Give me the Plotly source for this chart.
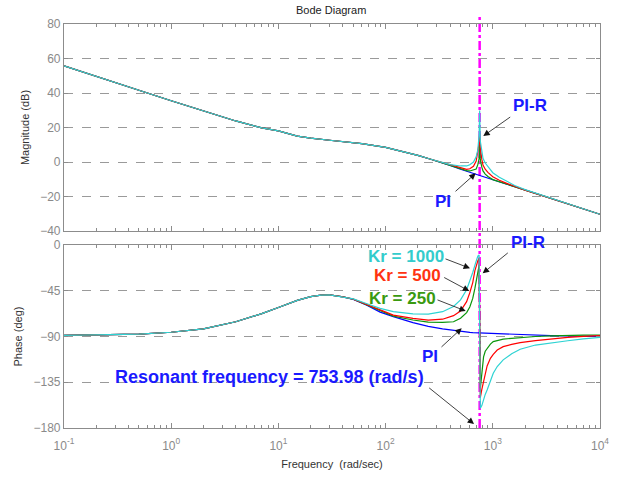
import plotly.graph_objects as go

# ---- Frequency response data (rad/s, dB, deg) ----
# Low-frequency part where PI and PI-R loops coincide
w_mag_shared = [0.1, 0.2, 0.5, 1, 2, 4, 7, 10, 15, 20, 30, 40, 60, 100, 150, 200, 250]
mag_shared = [55.7, 49.8, 41.6, 35.5, 29.6, 23.8, 19.8, 18.0, 15.0, 13.8, 12.6, 11.9,
              10.6, 8.5, 5.9, 3.8, 2.0]
w_ph_shared = [0.1, 0.2, 0.5, 1, 2, 4, 7, 10, 15, 20, 25, 30, 40]
ph_shared = [-88.8, -88.5, -87.6, -85.8, -82.5, -75.5, -67.5, -61.5, -54.5, -50.8,
             -49.3, -49.0, -51.0]

# Magnitude around the resonant frequency
w_mag_res = [300, 400, 500, 570, 610, 660, 700, 725, 745, 754, 765, 790, 810, 850, 900,
             1000, 1150, 1350, 1600, 2000, 3000, 5000, 7000, 10000]
mag_pi = [0.5, -2.0, -4.2, -5.4, -6.0, -6.8, -7.3, -7.6, -7.8, -7.9, -8.0, -8.3, -8.5,
          -8.9, -9.4, -10.6, -11.7, -12.9, -14.3, -16.3, -19.8, -24.2, -27.3, -30.3]
mag_kr250 = [0.5, -2.0, -4.1, -5.0, -5.2, -4.7, -4.1, -1.5, 2.0, 10.3, 1.2, -3.0, -5.2,
             -7.0, -8.4, -10.2, -11.5, -12.8, -14.3, -16.3, -19.8, -24.2, -27.3, -30.3]
mag_kr500 = [0.6, -1.9, -3.7, -4.3, -3.9, -2.5, 0.5, 5.5, 11.0, 16.6, 8.0, 1.5, -1.7,
             -4.2, -6.0, -8.5, -10.6, -12.4, -14.1, -16.3, -19.8, -24.2, -27.3, -30.3]
mag_kr1000 = [0.8, -1.5, -2.3, -2.3, -1.6, 0.0, 3.0, 7.0, 15.7, 29.8, 12.0, 5.0, 2.1,
              -0.6, -2.8, -6.2, -8.8, -11.3, -13.6, -16.0, -19.7, -24.2, -27.3, -30.3]

# Phase around the resonant frequency
w_ph_res = [50, 66, 89, 118, 180, 250, 340, 430, 500, 570, 610, 650, 680, 705, 725, 745,
            765, 790, 820, 850, 885, 950, 1010, 1100, 1250, 1500, 1800, 2500, 3500, 5000,
            7000, 10000]
ph_pi = [-53.5, -59.0, -66.0, -70.5, -76.4, -80.0, -82.5, -84.2, -85.0, -85.7, -86.0,
         -86.2, -86.3, -86.4, -86.5, -86.5, -86.6, -86.6, -86.7, -86.7, -86.8, -86.9,
         -87.0, -87.2, -87.5, -87.9, -88.3, -88.8, -89.2, -89.5, -89.7, -89.8]
ph_kr250 = [-53.4, -58.8, -65.3, -70.0, -73.8, -75.8, -76.2, -75.5, -72.0, -66.5, -61.0,
            -52.5, -43.0, -32.0, -24.0, -20.0, -141.0, -125.0, -110.0, -104.5, -101.6,
            -97.5, -95.0, -93.8, -92.6, -91.8, -91.0, -90.0, -89.4, -88.8, -88.6, -88.5]
ph_kr500 = [-53.3, -58.5, -64.0, -69.0, -72.1, -73.8, -73.0, -69.5, -65.0, -55.7, -47.0,
            -37.0, -25.5, -19.0, -15.5, -13.0, -150.0, -142.0, -134.0, -126.0, -119.0,
            -111.5, -107.5, -103.3, -100.0, -97.8, -96.0, -94.0, -92.3, -90.8, -89.9, -89.2]
ph_kr1000 = [-53.0, -57.5, -62.3, -65.5, -67.8, -68.0, -65.6, -60.5, -54.0, -44.0, -36.0,
             -27.0, -20.0, -13.5, -11.0, -9.8, -160.6, -158.0, -152.0, -147.0, -142.6,
             -133.0, -126.2, -119.5, -113.0, -107.0, -102.5, -98.4, -96.0, -94.2, -92.3,
             -90.8]

w_resonant = 753.98

# Decade ticks of the frequency axis
decade_exponents = [-1, 0, 1, 2, 3, 4]

series = [
    ("PI", mag_pi, ph_pi, "#0000ff"),
    ("Kr = 250", mag_kr250, ph_kr250, "#0a960a"),
    ("Kr = 500", mag_kr500, ph_kr500, "#ff0000"),
    ("Kr = 1000", mag_kr1000, ph_kr1000, "#2ed3d3"),
]

fig = go.Figure()
for name, mag, ph, col in series:
    fig.add_trace(go.Scatter(x=w_mag_shared + w_mag_res, y=mag_shared + mag,
                             mode="lines", line=dict(color=col, width=1.2),
                             name=name, xaxis="x", yaxis="y", showlegend=False))
    fig.add_trace(go.Scatter(x=w_ph_shared + w_ph_res, y=ph_shared + ph,
                             mode="lines", line=dict(color=col, width=1.2),
                             name=name, xaxis="x2", yaxis="y2", showlegend=False))

FONT = "Arial, Liberation Sans, sans-serif"
GREY = "#8a8a8a"
FRAME = "#8c8c8c"

major_vals = [10.0 ** e for e in decade_exponents]
major_text = [f"10<sup>{e}</sup>" for e in decade_exponents]
minor_vals = [k * 10.0 ** e for e in decade_exponents[:-1] for k in range(2, 10)]

common_x = dict(type="log", range=[-1, 4], tickmode="array", tickvals=major_vals,
                ticktext=major_text, showgrid=False, zeroline=False, automargin=False,
                showline=True, linecolor=FRAME, linewidth=1.2, mirror="ticks",
                ticks="inside", ticklen=5, tickcolor=FRAME,
                minor=dict(tickmode="array", tickvals=minor_vals, ticks="inside",
                           ticklen=3, tickcolor=FRAME, showgrid=False))
common_y = dict(showgrid=True, gridcolor="#9a9a9a", griddash="dash", gridwidth=1,
                zeroline=False, showline=True, linecolor=FRAME, linewidth=1.2,
                mirror="ticks", ticks="inside", ticklen=4, tickcolor=FRAME,
                automargin=False,
                tickfont=dict(family=FONT, size=12, color=GREY))

H_TOP, H_BOT = 24, 428  # plot area top/bottom in pixels
L, R = 64, 600


def P(x, y):
    return (x - L) / (R - L), (H_BOT - y) / (H_BOT - H_TOP)


fig.update_layout(
    width=622, height=478,
    margin=dict(l=L, r=622 - R, t=H_TOP, b=478 - H_BOT),
    paper_bgcolor="white", plot_bgcolor="white",
    xaxis=dict(common_x, anchor="y", domain=[0, 1], showticklabels=False),
    xaxis2=dict(common_x, anchor="y2", domain=[0, 1], ticklabelstandoff=6,
                tickfont=dict(family=FONT, size=12, color=GREY),
                title=dict(text="Frequency  (rad/sec)", standoff=8,
                           font=dict(family=FONT, size=11, color="#333333"))),
    yaxis=dict(common_y, anchor="x", domain=[P(0, 231)[1], 1], range=[-40, 80], dtick=20,
               title=dict(text="Magnitude (dB)", standoff=8,
                          font=dict(family=FONT, size=11, color="#333333"))),
    yaxis2=dict(common_y, anchor="x2", domain=[0, P(0, 245)[1]], range=[-180, 0],
                tickvals=[0, -45, -90, -135, -180],
                title=dict(text="Phase (deg)", standoff=8,
                           font=dict(family=FONT, size=11, color="#333333"))),
)

# Resonant frequency marker spanning both panels, kept under the curves
fig.add_shape(type="line", xref="x", yref="paper", x0=w_resonant, x1=w_resonant,
              y0=0, y1=P(0, 16)[1], layer="below",
              line=dict(color="#ff00ff", width=2.5, dash="dashdot"))

BLUE = "#1a1aff"
texts = [
    ("Bode Diagram", 331, 10, "#222222", 11, False, "center"),
    ("PI-R", 530, 106, BLUE, 17, True, "center"),
    ("PI", 443, 202, BLUE, 17, True, "center"),
    ("PI-R", 528, 242, BLUE, 17, True, "center"),
    ("Kr = 1000", 406, 256.7, "#33cccc", 17, True, "center"),
    ("Kr = 500", 407, 275.5, "#ff3311", 17, True, "center"),
    ("Kr = 250", 402, 298.3, "#3a9a10", 17, True, "center"),
    ("PI", 430, 356, BLUE, 17, True, "center"),
    ("Resonant frequency = 753.98 (rad/s)", 112.7, 377, BLUE, 18, True, "left"),
]
for txt, x, y, col, size, bold, anchor in texts:
    px, py = P(x, y)
    fig.add_annotation(x=px, y=py, xref="paper", yref="paper", showarrow=False,
                       text=f"<b>{txt}</b>" if bold else txt, xanchor=anchor,
                       yanchor="middle",
                       font=dict(family=FONT, size=size, color=col))

arrows = [
    ((511.7, 116), (483.3, 136)),
    ((454, 192.7), (475.7, 173.3)),
    ((509.3, 251.7), (482.7, 273.3)),
    ((444, 258.3), (470, 268.3)),
    ((442.7, 276.7), (469.3, 291)),
    ((436, 299.3), (465.7, 311)),
    ((440, 348.3), (461.7, 328.3)),
    ((427.7, 386.7), (474, 424)),
]
for (tx, ty), (hx, hy) in arrows:
    px, py = P(hx, hy)
    fig.add_annotation(x=px, y=py, xref="paper", yref="paper", text="", showarrow=True,
                       ax=tx - hx, ay=ty - hy, arrowhead=2, arrowsize=1.6,
                       arrowwidth=0.8, arrowcolor="#111111", standoff=0)

fig.write_html("out.html")
